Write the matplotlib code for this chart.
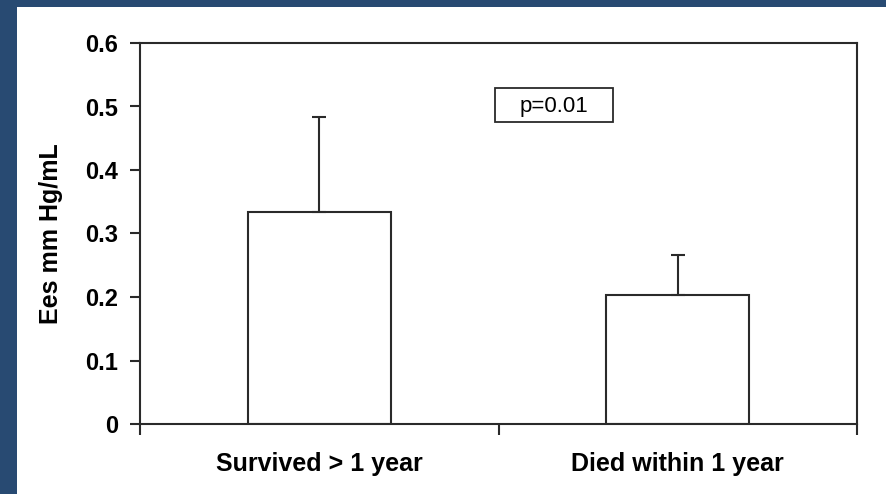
import matplotlib.pyplot as plt
from matplotlib import font_manager

groups = ['Survived > 1 year', 'Died within 1 year']
ees_mean = [0.334, 0.203]
ees_sd = [0.149, 0.063]
yticks = [0, 0.1, 0.2, 0.3, 0.4, 0.5, 0.6]
p_text = 'p=0.01'

plt.rcParams['font.family'] = ['Liberation Sans', 'DejaVu Sans']

names = {f.name for f in font_manager.fontManager.ttflist}
cat_family = 'Liberation Sans Narrow' if 'Liberation Sans Narrow' in names else 'Liberation Sans'
cat_size = 22 if cat_family == 'Liberation Sans Narrow' else 18

fig = plt.figure(figsize=(8.86, 4.94), dpi=100)
fig.patch.set_facecolor('#284a72')

# white slide panel
panel = plt.Rectangle((17 / 886, 0), 1, 1 - 7 / 494, transform=fig.transFigure,
                      facecolor='white', edgecolor='none', zorder=-10)
fig.patches.append(panel)

ax = fig.add_axes([140 / 886, 70 / 494, 717 / 886, 381 / 494])
ax.set_facecolor('white')

line_col = '#2a2a2a'
x = range(len(groups))
ax.bar(x, ees_mean, width=0.4, color='white', edgecolor=line_col, linewidth=1.5,
       yerr=[[0] * len(ees_sd), ees_sd], capsize=4.7,
       error_kw=dict(ecolor=line_col, elinewidth=1.5, capthick=1.5))

ax.set_xlim(-0.5, 1.5)
ax.set_ylim(0, 0.6)
ax.set_yticks(yticks)
ax.set_yticklabels(['0' if t == 0 else f'{t:.1f}' for t in yticks],
                   fontsize=17, fontweight='bold')

# category ticks sit on the boundaries, labels sit under the bars
ax.set_xticks([-0.5, 0.5, 1.5])
ax.set_xticklabels([])
ax.set_xticks(list(x), minor=True)
ax.set_xticklabels(groups, minor=True, fontsize=cat_size, fontweight='bold',
                   family=[cat_family, 'DejaVu Sans'])
ax.tick_params(axis='x', which='minor', length=0, pad=20)
ax.tick_params(axis='x', which='major', direction='out', length=8, width=1.5, color=line_col)
ax.tick_params(axis='y', direction='out', length=7, width=1.5, color=line_col, pad=9)

for s in ax.spines.values():
    s.set_linewidth(1.5)
    s.set_color(line_col)

ax.set_ylabel('Ees mm Hg/mL', fontsize=18, fontweight='bold', labelpad=16)

# p-value box
ax.add_patch(plt.Rectangle((0.49, 0.4756), 0.329, 0.0534, facecolor='white',
                           edgecolor=line_col, linewidth=1.3))
ax.text(0.655, 0.5005, p_text, ha='center', va='center', fontsize=16)

fig.savefig('out.png', dpi=100, facecolor=fig.get_facecolor())
